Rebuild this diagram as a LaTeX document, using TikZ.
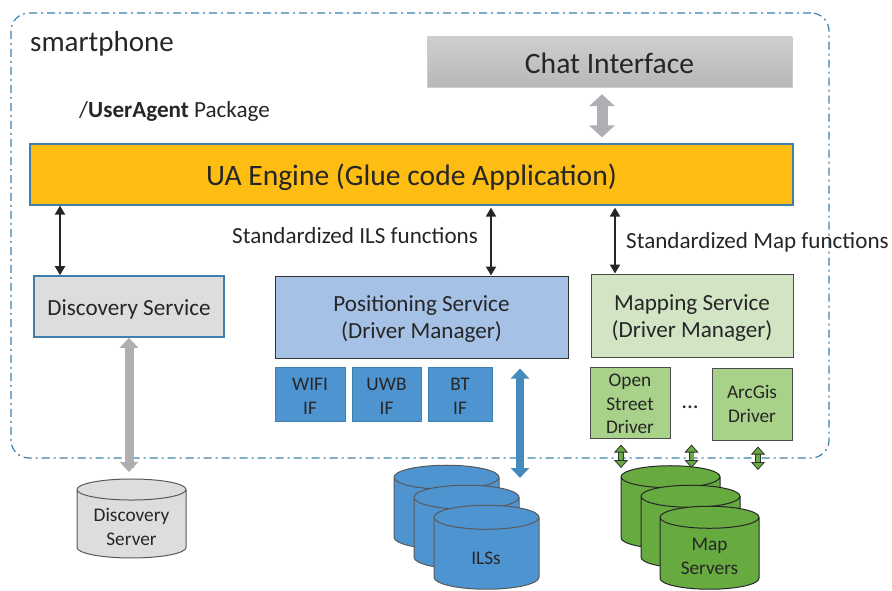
\documentclass[tikz,border=0pt]{standalone}
\usepackage{fontspec}
\setmainfont{Carlito}
\usetikzlibrary{arrows.meta}
\usetikzlibrary{shapes.geometric}
\definecolor{framecol}{HTML}{3F7FAB}
\definecolor{inkcol}{HTML}{262626}
\definecolor{enginecol}{HTML}{FDBD13}
\definecolor{discol}{HTML}{DCDDDF}
\definecolor{poscol}{HTML}{A5C1E5}
\definecolor{mapcol}{HTML}{D1E5C4}
\definecolor{ifcol}{HTML}{4E94D0}
\definecolor{drvcol}{HTML}{A8D18A}
\definecolor{srvcol}{HTML}{66AA40}
\definecolor{fatcol}{HTML}{ADAFB3}
\newcommand{\dn}[1]{\rule{0pt}{#1}}
\tikzset{cell/.style={rectangle, draw, inner sep=0pt, text=inkcol, align=center}}
\tikzset{lbl/.style={inner sep=0pt, text=inkcol, anchor=base west}}
\tikzset{big/.style={font=\fontsize{29.6}{32}\selectfont}}
\tikzset{mid/.style={font=\fontsize{23.1}{27}\selectfont}}
\tikzset{small/.style={font=\fontsize{19.3}{23.5}\selectfont}}
\tikzset{store/.style={cylinder, shape border rotate=90, draw=black!65, line width=1pt, small,
   aspect=2.4, cylinder uses custom fill, inner sep=0pt, minimum width=#1, text=inkcol, align=center}}
\tikzset{link/.style={{Triangle[width=10pt,length=9pt]}-{Triangle[width=10pt,length=9pt]},
   line width=2pt, color=inkcol}}
\tikzset{fat/.style={{Triangle[width=25pt,length=12pt]}-{Triangle[width=25pt,length=12pt]},
   line width=11pt, color=fatcol}}
\tikzset{fatthin/.style={{Triangle[width=18pt,length=10pt]}-{Triangle[width=18pt,length=10pt]},
   line width=9pt, color=fatcol}}
\tikzset{fatblue/.style={{Triangle[width=18pt,length=10pt]}-{Triangle[width=18pt,length=10pt]},
   line width=7.5pt, color=framecol!50!ifcol}}
\tikzset{fatgreen/.style={{Triangle[width=14pt,length=8pt,fill=srvcol]}-{Triangle[width=14pt,length=8pt,fill=srvcol]},
   line width=.8pt, color=black!80, double=srvcol, double distance=4pt}}

\begin{document}
\begin{tikzpicture}[x=1pt,y=-1pt]
    \useasboundingbox (0,0) rectangle (892,591);

    \node[rectangle, rounded corners=18pt, draw=framecol, line width=1.2pt,
      dash pattern=on 8pt off 4pt on 2pt off 4pt,
      minimum width=818pt, minimum height=445pt, inner sep=0pt] (phone) at (420,235.5) {};

    \node[lbl, font=\fontsize{29}{32}\selectfont] (title) at (30,52) {smartphone};
    \node[lbl, mid] (pkg) at (79,118) {/\textbf{UserAgent} Package};

    \node[cell, big, draw=black!20, top color=black!19, bottom color=black!28,
      minimum width=365pt, minimum height=50pt] (chat) at (609.5,62) {\dn{24pt}Chat Interface};
    \node[cell, big, draw=framecol, line width=1.2pt, fill=enginecol,
      minimum width=763pt, minimum height=61pt] (engine) at (411.5,174.5) {\dn{28pt}UA Engine (Glue code Application)};

    \node[cell, mid, draw=framecol, line width=1.6pt, fill=discol,
      minimum width=190pt, minimum height=61pt] (disc) at (129,306.5) {\dn{22pt}Discovery Service};
    \node[cell, mid, draw=black!80, line width=1pt, fill=poscol,
      minimum width=293pt, minimum height=82pt] (pos) at (421.5,317) {\dn{20pt}Positioning Service\\(Driver Manager)};
    \node[cell, mid, draw=black!70, line width=1pt, fill=mapcol,
      minimum width=202pt, minimum height=83pt] (map) at (692,315.5) {\dn{20pt}Mapping Service\\(Driver Manager)};

    \node[cell, small, draw=framecol, line width=1pt, fill=ifcol,
      minimum width=70pt, minimum height=54pt] (wifi) at (310,394) {\dn{17pt}WIFI\\IF};
    \node[cell, small, draw=framecol, line width=1pt, fill=ifcol,
      minimum width=69pt, minimum height=54pt] (uwb) at (386.5,394) {\dn{17pt}UWB\\IF};
    \node[cell, small, draw=framecol, line width=1pt, fill=ifcol,
      minimum width=64pt, minimum height=54pt] (bt) at (460,394) {\dn{17pt}BT\\IF};

    \node[cell, small, draw=black!70, line width=1pt, fill=drvcol,
      minimum width=80pt, minimum height=71pt] (osm) at (630,402.5) {\dn{16pt}Open\\Street\\Driver};
    \node[cell, small, draw=black!70, line width=1pt, fill=drvcol,
      minimum width=80pt, minimum height=72pt] (arc) at (752,404) {ArcGis\\Driver};
    \node[lbl, mid, anchor=center] (dots) at (690,407) {...};

    \node[lbl, mid] (ilsf) at (232,243) {Standardized ILS functions};
    \node[lbl, mid] (mapf) at (626,248) {Standardized Map functions};

    \node[store=109pt, aspect=2.1, minimum height=79pt, cylinder body fill=discol, cylinder end fill=discol] (dsrv) at (131.5,524) {\phantom{X}};

    \node[store=105pt, minimum height=84pt, cylinder body fill=ifcol, cylinder end fill=ifcol] (ils1) at (446.5,513.5) {\phantom{X}};
    \node[store=105pt, minimum height=84pt, cylinder body fill=ifcol, cylinder end fill=ifcol] (ils2) at (466.5,533.5) {\phantom{X}};
    \node[store=105pt, minimum height=84pt, cylinder body fill=ifcol, cylinder end fill=ifcol] (ils3) at (486.5,553.5) {\phantom{X}};

    \node[store=99pt, aspect=2.2, draw=black!85, minimum height=83pt, cylinder body fill=srvcol, cylinder end fill=srvcol] (msrv1) at (670.5,513) {\phantom{X}};
    \node[store=99pt, aspect=2.2, draw=black!85, minimum height=83pt, cylinder body fill=srvcol, cylinder end fill=srvcol] (msrv2) at (690.5,532.5) {\phantom{X}};
    \node[store=99pt, aspect=2.2, draw=black!85, minimum height=83pt, cylinder body fill=srvcol, cylinder end fill=srvcol] (msrv3) at (709.5,553.5) {\phantom{X}};

    \node[lbl, small, anchor=center, align=center] (dsrvtxt) at (131.5,527) {Discovery\\Server};
    \node[lbl, small, anchor=center] (ilstxt) at (486,558) {ILSs};
    \node[lbl, small, anchor=center, align=center] (msrvtxt) at (709.5,556.5) {Map\\Servers};

    \coordinate (discx) at (60,0);
    \coordinate (posx) at (491,0);
    \coordinate (mapx) at (615,0);
    \coordinate (chatx) at (602,0);
    \coordinate (dsrvx) at (129,0);
    \coordinate (blueend) at (520,478);
    \coordinate (gr1) at (621,468);
    \coordinate (gr2) at (691.5,468);
    \coordinate (gr3) at (758,470);

    \draw[link] (engine.south -| discx) -- (disc.north -| discx);
    \draw[link, shorten <=2pt] (engine.south -| posx) -- (pos.north -| posx);
    \draw[link, shorten <=2pt] (engine.south -| mapx) -- (map.north -| mapx);

    \draw[fat, shorten <=7pt, shorten >=6pt] (chat.south -| chatx) -- (engine.north -| chatx);
    \draw[fatthin] (disc.south -| dsrvx) -- (dsrvx |- gr1) -- ++(0,4);
    \draw[fatblue] (bt.north -| blueend) ++(0,2) -- (blueend);

    \draw[fatgreen, shorten <=6pt] (osm.south -| gr1) -- (gr1);
    \draw[fatgreen, shorten <=6pt] (osm.south -| gr2) -- (gr2);
    \draw[fatgreen, shorten <=6pt] (arc.south -| gr3) -- (gr3);

  \end{tikzpicture}
\end{document}
